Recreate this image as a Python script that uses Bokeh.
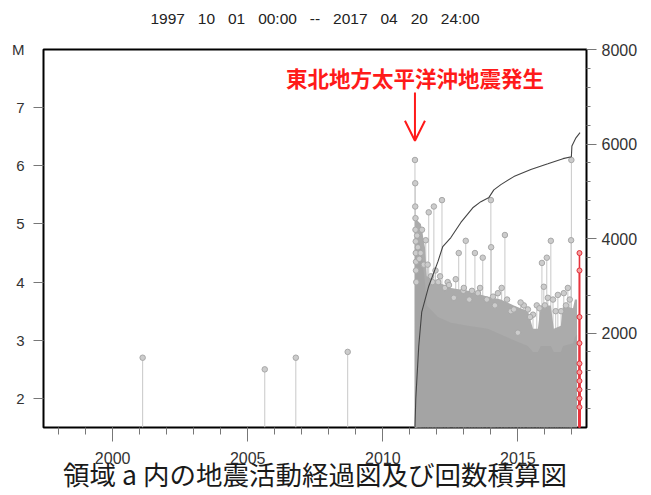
from bokeh.plotting import figure
from bokeh.models import Range1d, LinearAxis, FixedTicker, Label, Arrow, OpenHead
from bokeh.embed import file_html
from bokeh.resources import INLINE

# ---------------- data ----------------
SP = "\u00a0\u00a0\u00a0"
TITLE = SP.join(["1997", "10", "01", "00:00", "--", "2017", "04", "20", "24:00"])
CAPTION = "領域 a 内の地震活動経過図及び回数積算図"
EVENT_LABEL = "東北地方太平洋沖地震発生"
MAIN_T = 2011.19  # 2011-03-11

# individual events: decimal year, magnitude
stem_t = [2001.11, 2005.63, 2006.78, 2008.70,
          2011.19, 2011.20, 2011.20, 2011.21, 2011.21, 2011.22, 2011.22, 2011.23, 2011.23, 2011.24,
          2011.30, 2011.35, 2011.45, 2011.52, 2011.59, 2011.70, 2011.78, 2011.89, 2011.95,
          2012.05, 2012.19, 2012.30, 2012.40, 2012.63, 2012.81, 2012.98, 2013.07, 2013.20,
          2013.41, 2013.52, 2013.70, 2013.85, 2014.00, 2014.01, 2014.15, 2014.26, 2014.40,
          2014.52, 2014.74, 2014.85, 2015.00, 2015.22, 2015.37, 2015.56, 2015.70, 2015.89,
          2015.96, 2016.07, 2016.11, 2016.22, 2016.30, 2016.48, 2016.60, 2016.70, 2016.85,
          2016.97, 2016.98,
          2011.27, 2011.40, 2011.66, 2011.84, 2012.12, 2012.45, 2012.70, 2013.00, 2013.30,
          2013.60, 2014.08, 2014.60, 2015.10, 2015.45, 2015.80, 2016.00, 2016.40, 2016.78,
          2016.92]
stem_m = [2.70, 2.50, 2.70, 2.80,
          6.10, 5.70, 5.30, 5.10, 4.90, 4.70, 4.50, 4.35, 4.20, 4.00,
          4.60, 4.40, 4.90, 4.30, 4.72, 5.20, 4.10, 5.30, 4.20,
          4.00, 5.41, 3.90, 4.00, 3.73, 4.50, 3.85, 4.71, 3.70,
          4.50, 3.81, 4.42, 3.70, 5.41, 4.60, 3.60, 3.81, 3.90,
          4.81, 3.50, 3.53, 3.13, 3.60, 3.53, 3.44, 3.60, 4.33,
          3.92, 4.42, 3.73, 4.71, 3.70, 3.78, 3.50, 3.81, 3.90,
          4.72, 6.10,
          4.80, 4.50, 4.30, 4.00, 4.10, 3.95, 4.05, 3.90, 3.85,
          3.90, 3.75, 3.70, 3.65, 3.40, 3.55, 3.60, 3.50, 3.60,
          3.70]

# dense aftershock mass: outer envelope and fully solid part (magnitude)
dense_t = [2011.19, 2011.41, 2011.56, 2011.63, 2012.04, 2012.52, 2013.15, 2013.89,
           2014.37, 2014.85, 2015.37, 2015.56, 2015.74, 2015.85, 2016.22, 2016.33,
           2016.59, 2016.67, 2017.04, 2017.11, 2017.19]
dense_top = [5.10, 5.00, 4.60, 4.10, 4.00, 3.90, 3.85, 3.75,
             3.70, 3.60, 3.50, 3.20, 3.20, 3.60, 3.60, 3.20,
             3.25, 3.60, 3.55, 3.70, 3.70]
dense_solid = [4.90, 4.60, 4.00, 3.60, 3.40, 3.30, 3.25, 3.20,
               3.10, 3.00, 2.90, 2.80, 2.80, 2.90, 2.90, 2.80,
               2.80, 2.90, 2.95, 3.05, 3.10]

# latest period (red)
red_t = [2017.28] * 10
red_m = [4.50, 4.20, 3.40, 2.95, 2.60, 2.45, 2.30, 2.15, 2.00, 1.85]

# cumulative number of events
cum_t = [2011.19, 2011.22, 2011.33, 2011.44, 2011.70, 2012.04, 2012.22, 2012.52,
         2012.89, 2013.33, 2013.63, 2013.93, 2014.11, 2014.37, 2014.85, 2015.48,
         2016.11, 2016.67, 2016.98, 2017.00, 2017.15, 2017.30]
cum_n = [0, 600, 1720, 2440, 2990, 3510, 3830, 4020,
         4340, 4650, 4780, 4870, 5030, 5140, 5310, 5460,
         5580, 5690, 5730, 5960, 6130, 6240]

x_ticks = [2000, 2005, 2010, 2015]
x_minor = list(range(1998, 2018))
m_ticks = [2, 3, 4, 5, 6, 7]
m_labels = {2: "2", 3: "3", 4: "4", 5: "5", 6: "6", 7: "7", 8: "M"}
n_ticks = [2000, 4000, 6000, 8000]
n_minor = list(range(400, 8000, 400))

T_MIN, T_MAX = 1997.44, 2017.54
M_MIN, M_MAX = 1.5, 8.0

# ---------------- figure ----------------
p = figure(width=645, height=495, x_range=Range1d(T_MIN, T_MAX),
           y_range=Range1d(M_MIN, M_MAX), output_backend="svg", toolbar_location=None,
           min_border_left=43, min_border_right=59, min_border_top=49, min_border_bottom=67)
p.extra_y_ranges = {"n": Range1d(0, 8000)}
p.xgrid.visible = False
p.ygrid.visible = False
p.outline_line_color = "black"
p.outline_line_width = 2
p.background_fill_color = "white"
p.border_fill_color = "white"

FONT = "Liberation Sans"

def style(ax, fs, out, mout):
    ax.axis_line_color = None
    ax.major_tick_line_color = "#777777"
    ax.minor_tick_line_color = "#777777"
    ax.major_tick_in = 0
    ax.major_tick_out = out
    ax.minor_tick_in = 0
    ax.minor_tick_out = mout
    ax.major_label_text_font = FONT
    ax.major_label_text_font_size = fs
    ax.major_label_text_color = "#333333"

xa = p.xaxis[0]
xa.ticker = FixedTicker(ticks=x_ticks, minor_ticks=x_minor)
style(xa, "16px", 14, 7)
xa.major_label_standoff = 10
xa.axis_label = CAPTION
xa.axis_label_text_font = "Noto Sans CJK JP"
xa.axis_label_text_font_size = "26.5px"
xa.axis_label_text_font_style = "normal"
xa.axis_label_text_color = "#1a1a1a"
xa.axis_label_standoff = -13

# left: tick marks only (closest to frame)
ya = p.yaxis[0]
ya.ticker = FixedTicker(ticks=m_ticks, minor_ticks=[])
style(ya, "1px", 10, 0)
ya.major_label_overrides = {t: "" for t in m_ticks}
ya.major_label_standoff = 0

# left: labels incl. "M" at the top
yl = LinearAxis(ticker=FixedTicker(ticks=m_ticks + [M_MAX], minor_ticks=[]),
                major_label_overrides=m_labels)
style(yl, "15px", 0, 0)
yl.major_label_standoff = 9
p.add_layout(yl, "left")

ra = LinearAxis(y_range_name="n", ticker=FixedTicker(ticks=n_ticks, minor_ticks=n_minor))
style(ra, "16px", 10, 4)
ra.major_label_standoff = 5
p.add_layout(ra, "right")

# title line above the frame (as a one-tick axis centred on the frame)
T_MID = (T_MIN + T_MAX) / 2
ta = LinearAxis(ticker=FixedTicker(ticks=[T_MID], minor_ticks=[]),
                major_label_overrides={T_MID: TITLE})
style(ta, "15.5px", 0, 0)
ta.major_tick_line_color = None
ta.major_label_text_color = "#222222"
ta.major_label_standoff = 23
p.add_layout(ta, "above")

# stems (lines under the dense mass)
p.segment(x0=stem_t, y0=M_MIN, x1=stem_t, y1=stem_m, line_color="#c8c8c8", line_width=1)

# dense mass
p.varea(x=dense_t, y1=M_MIN, y2=dense_top, fill_color="#ababab")
p.varea(x=dense_t, y1=M_MIN, y2=dense_solid, fill_color="#a4a4a4")

p.scatter(x=stem_t, y=stem_m, size=5.5, marker="circle", fill_color="#cccccc", line_color="#a8a8a8")

# red latest
p.segment(x0=red_t, y0=M_MIN, x1=red_t, y1=red_m, line_color="#e8323c", line_width=1.6)
p.scatter(x=red_t, y=red_m, size=5, marker="circle", fill_color="#f4a0a0", line_color="#e0303a")

# cumulative
p.line(x=cum_t, y=cum_n, y_range_name="n", line_color="#444444", line_width=1.1)

# annotation
p.add_layout(Label(x=MAIN_T, y=7.51, text=EVENT_LABEL, text_align="center", text_baseline="middle",
                   text_font="Noto Sans CJK JP", text_font_style="bold",
                   text_font_size="21.5px", text_color="#ff1a1a"))
p.add_layout(Arrow(x_start=MAIN_T, y_start=7.26, x_end=MAIN_T, y_end=6.43,
                   line_color="#ff1a1a", line_width=2,
                   end=OpenHead(size=20, line_color="#ff1a1a", line_width=2)))

open("out.html", "w").write(file_html(p, INLINE))
